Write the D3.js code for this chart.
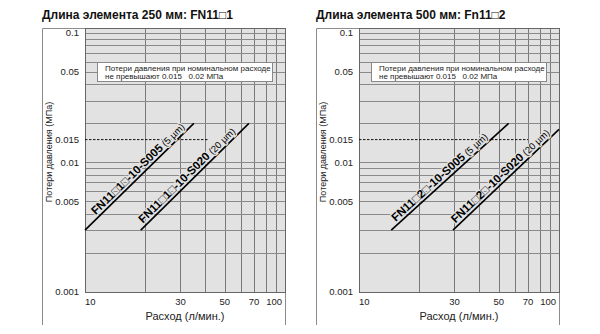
<!DOCTYPE html>
<html>
<head>
<meta charset="utf-8">
<script src="https://cdn.jsdelivr.net/npm/d3@7"></script>
<style>
  body { margin: 0; background: #fff; }
  svg { font-family: "Liberation Sans", Arial, sans-serif; }
</style>
</head>
<body>
<div id="chart"></div>
<script>
// Chart data
const panelTitles = ["Длина элемента 250 мм: FN11□1", "Длина элемента 500 мм: Fn11□2"];
const seriesNames = [
  ["FN11□1□-10-S005", "FN11□1□-10-S020"],
  ["FN11□2□-10-S005", "FN11□2□-10-S020"]
];
const filterSizes = ["(5 µm)", "(20 µm)"];

// flow (l/min) vs pressure drop (MPa), line end points
const line250_5 = [{ q: 10, p: 0.003 }, { q: 35, p: 0.02 }];
const line250_20 = [{ q: 19, p: 0.003 }, { q: 66, p: 0.02 }];
const line500_5 = [{ q: 14.5, p: 0.003 }, { q: 56, p: 0.02 }];
const line500_20 = [{ q: 29.5, p: 0.003 }, { q: 100, p: 0.018 }];

const nominalDrop = 0.015;
const nominalEnd = [41.5, 70];

const xTicks = [10, 30, 50, 70, 100];
const yTicks = [0.001, 0.005, 0.01, 0.015, 0.05, 0.1];
const xGrid = [20, 30, 40, 50, 60, 70, 80, 90];
const yGrid = [0.002, 0.003, 0.004, 0.005, 0.006, 0.007, 0.008, 0.009, 0.01,
               0.02, 0.03, 0.04, 0.05, 0.06, 0.07, 0.08, 0.09, 0.1];

const noteLines = ["Потери давления при номинальном расходе", "не превышают 0.015\u00a0\u00a0\u00a00.02 МПа"];
const xTitle = "Расход (л/мин.)";
const yTitle = "Потери давления (МПа)";

const panels = [
  { left: 85, box: 42, series: [line250_5, line250_20], labelAt: [0.53, 0.47] },
  { left: 359, box: 316, series: [line500_5, line500_20], labelAt: [0.45, 0.49] }
];

const W = 600, H = 334;
const plotW = 200, plotTop = 28, plotBottom = 292;

const svg = d3.select("#chart").append("svg")
    .attr("width", W)
    .attr("height", H);

panels.forEach((pn, i) => {
  const x = d3.scaleLog().domain([10, 100]).range([pn.left, pn.left + plotW]);
  const y = d3.scaleLog().domain([0.001, 0.109]).range([plotBottom, plotTop]);
  const g = svg.append("g");

  // title
  g.append("text")
      .attr("x", pn.box)
      .attr("y", 19)
      .attr("font-size", "12px")
      .attr("font-weight", "bold")
      .attr("fill", "#111")
      .text(panelTitles[i]);

  // outer frame (left, top, right)
  g.append("path")
      .attr("d", `M${pn.box + 0.5},325V${plotTop + 0.5}H${pn.left + plotW + 0.5}V325`)
      .attr("fill", "none")
      .attr("stroke", "#8c8c8c")
      .attr("stroke-width", 1);

  // plot background
  g.append("rect")
      .attr("x", pn.left)
      .attr("y", plotTop)
      .attr("width", plotW)
      .attr("height", plotBottom - plotTop)
      .attr("fill", "#e2e2e2");

  // grid
  g.selectAll(".vgrid")
      .data(xGrid)
    .enter().append("line")
      .attr("x1", d => Math.round(x(d)) + 0.5)
      .attr("x2", d => Math.round(x(d)) + 0.5)
      .attr("y1", plotTop)
      .attr("y2", plotBottom)
      .attr("stroke", "#7a7a7a")
      .attr("stroke-width", 1);

  g.selectAll(".hgrid")
      .data(yGrid)
    .enter().append("line")
      .attr("x1", pn.left)
      .attr("x2", pn.left + plotW)
      .attr("y1", d => Math.round(y(d)) + 0.5)
      .attr("y2", d => Math.round(y(d)) + 0.5)
      .attr("stroke", "#8a8a8a")
      .attr("stroke-width", 1);

  g.append("rect")
      .attr("x", pn.left + 0.5)
      .attr("y", plotTop + 0.5)
      .attr("width", plotW)
      .attr("height", plotBottom - plotTop)
      .attr("fill", "none")
      .attr("stroke", "#666");

  // note box
  g.append("rect")
      .attr("x", pn.left + 12.5)
      .attr("y", 62.5)
      .attr("width", 175)
      .attr("height", 19)
      .attr("fill", "#fff")
      .attr("stroke", "#888");

  g.selectAll(".note")
      .data(noteLines)
    .enter().append("text")
      .attr("x", pn.left + 20)
      .attr("y", (d, k) => 70.5 + k * 8)
      .attr("font-size", "8px")
      .attr("fill", "#222")
      .text(d => d);

  // nominal pressure drop level
  g.append("line")
      .attr("x1", x(10))
      .attr("x2", x(nominalEnd[i]))
      .attr("y1", y(nominalDrop))
      .attr("y2", y(nominalDrop))
      .attr("stroke", "#111")
      .attr("stroke-width", 1)
      .attr("stroke-dasharray", "2.5,1.5");

  // characteristic lines with labels
  const line = d3.line().x(d => x(d.q)).y(d => y(d.p));
  pn.series.forEach((s, k) => {
    g.append("path")
        .datum(s)
        .attr("d", line)
        .attr("fill", "none")
        .attr("stroke", "#000")
        .attr("stroke-width", 1.6);

    const x0 = x(s[0].q), y0 = y(s[0].p), x1 = x(s[1].q), y1 = y(s[1].p);
    const f = pn.labelAt[k];
    const angle = Math.atan2(y1 - y0, x1 - x0) * 180 / Math.PI;
    const lab = g.append("text")
        .attr("transform", `translate(${x0 + (x1 - x0) * f},${y0 + (y1 - y0) * f}) rotate(${angle})`)
        .attr("y", -3)
        .attr("text-anchor", "middle")
        .attr("fill", "#000")
        .attr("stroke", "#e2e2e2")
        .attr("stroke-width", 2.5)
        .attr("paint-order", "stroke");
    lab.append("tspan")
        .attr("font-size", "11.5px")
        .attr("font-weight", "bold")
        .text(seriesNames[i][k]);
    lab.append("tspan")
        .attr("font-size", "9.5px")
        .text(" " + filterSizes[k]);
  });

  // y ticks
  g.selectAll(".ytick")
      .data(yTicks)
    .enter().append("text")
      .attr("x", pn.left - 6)
      .attr("y", d => y(d))
      .attr("dy", "0.35em")
      .attr("text-anchor", "end")
      .attr("font-size", "9.5px")
      .attr("fill", "#222")
      .text(d => d);

  // x ticks
  g.selectAll(".xtick")
      .data(xTicks)
    .enter().append("text")
      .attr("x", d => d === 100 ? x(d) - 3 : x(d))
      .attr("y", 305)
      .attr("text-anchor", d => d === 10 ? "start" : d === 100 ? "end" : "middle")
      .attr("font-size", "9.5px")
      .attr("fill", "#222")
      .text(d => d);

  // axis titles
  g.append("text")
      .attr("x", pn.left + plotW / 2)
      .attr("y", 320)
      .attr("text-anchor", "middle")
      .attr("font-size", "11px")
      .attr("fill", "#222")
      .text(xTitle);

  g.append("text")
      .attr("transform", `translate(${pn.box + 10},152) rotate(-90)`)
      .attr("text-anchor", "middle")
      .attr("font-size", "9px")
      .attr("fill", "#222")
      .text(yTitle);
});
</script>
</body>
</html>
